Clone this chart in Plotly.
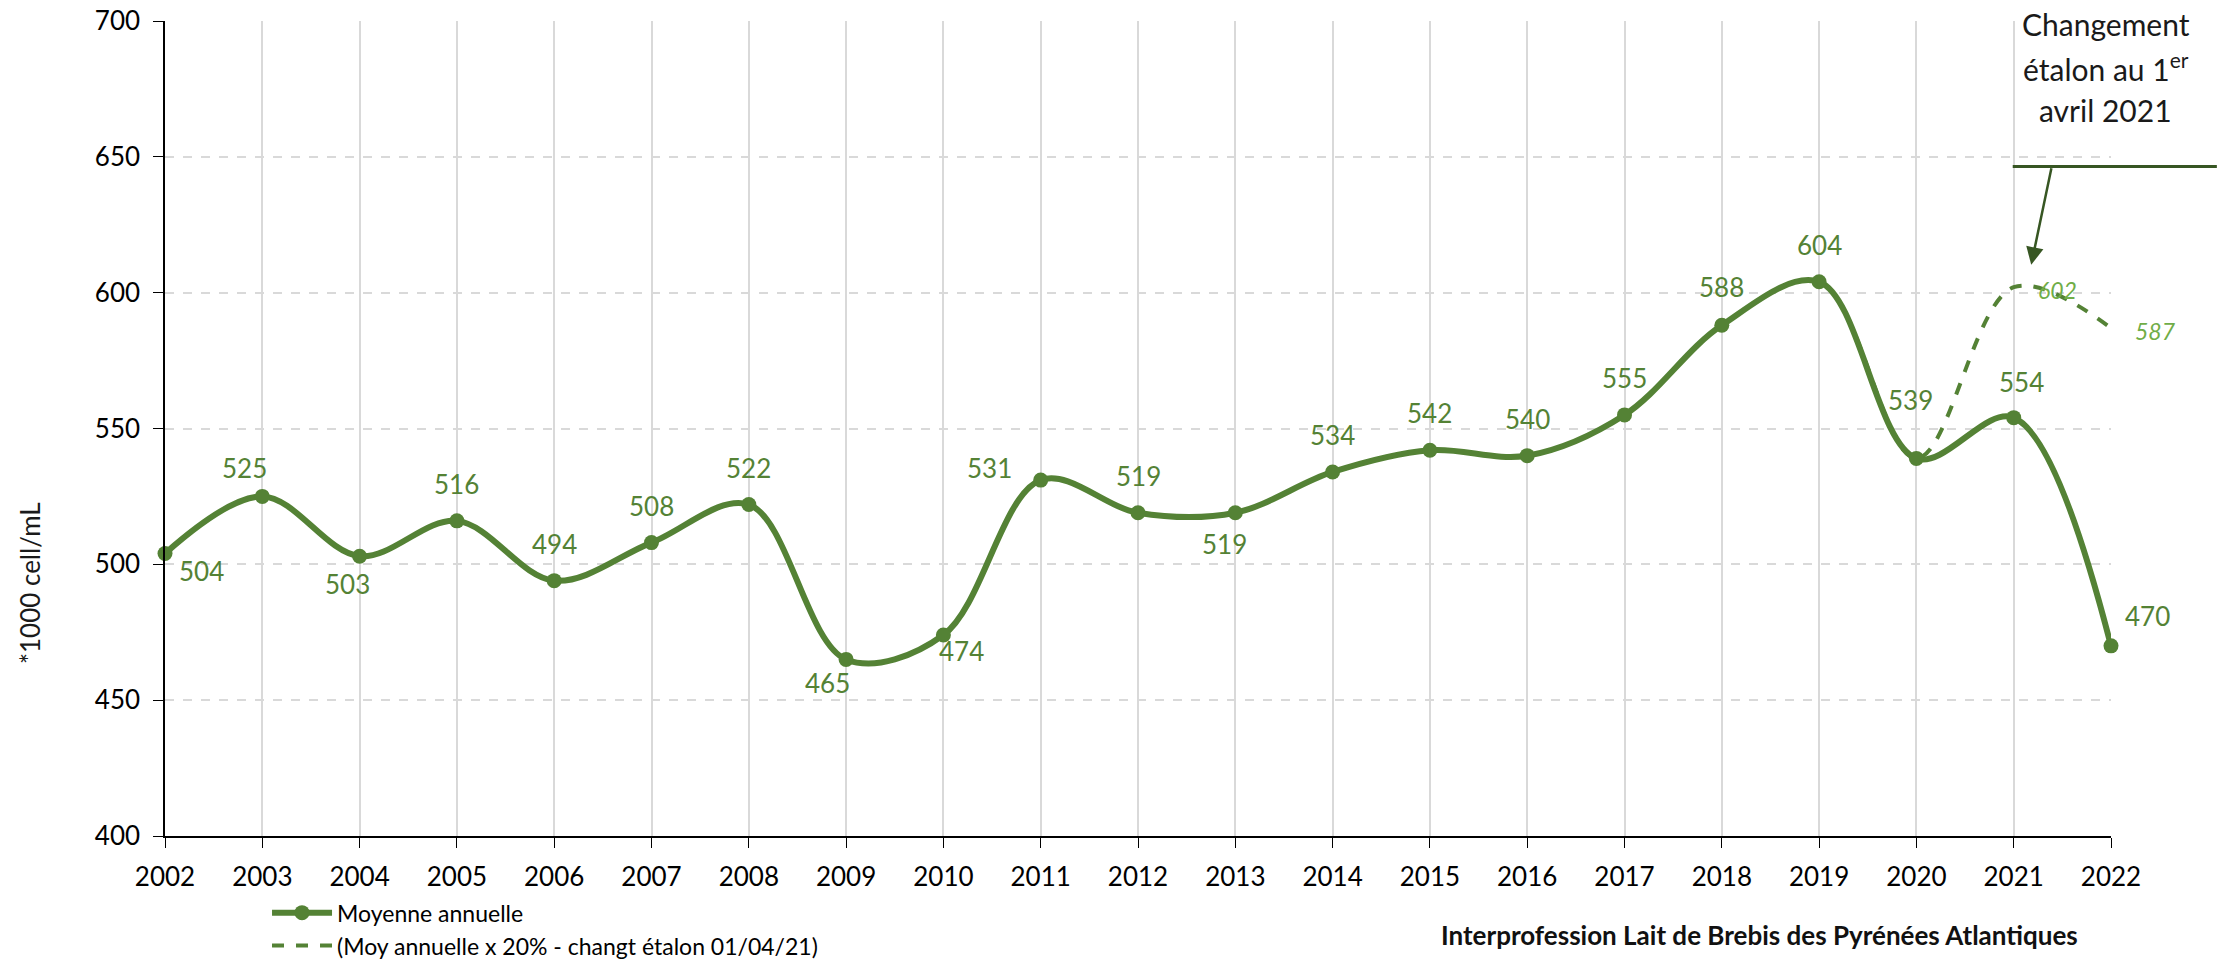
import plotly.graph_objects as go

years = list(range(2002, 2023))
moyenne = [504, 525, 503, 516, 494, 508, 522, 465, 474, 531, 519,
           519, 534, 542, 540, 555, 588, 604, 539, 554, 470]
# the adjusted series follows the annual mean until 2020 (hidden under it)
moyenne_etalon = [504, 525, 503, 516, 494, 508, 522, 465, 474, 531, 519,
                  519, 534, 542, 540, 555, 588, 604, 539, 602, 587]
etalon_labelled = [2021, 2022]
note_lines = ['Changement', 'étalon au 1<sup>er</sup>', 'avril 2021']

# label offsets in pixels (dx, dy) relative to each point
label_offsets = [(36, 18), (-18, -28), (-12, 28), (0, -37), (0, -37), (0, -37),
                 (0, -37), (-19, 24), (18, 16), (-51, -12), (0, -37), (-11, 31),
                 (0, -37), (0, -37), (0, -37), (0, -37), (0, -38), (0, -37),
                 (-6, -58), (8, -36), (36, -30)]

GREEN = '#548235'
LIGHT_GREEN = '#70AD47'
DARK_GREEN = '#375623'
FONT = 'Lato'

fig = go.Figure()
fig.add_trace(go.Scatter(
    x=years, y=moyenne_etalon, mode='lines',
    name='(Moy annuelle x 20% - changt étalon 01/04/21)',
    line=dict(color=GREEN, width=4, dash='dash', shape='spline', smoothing=1),
    cliponaxis=False, showlegend=True, legendrank=2,
))
fig.add_trace(go.Scatter(
    x=years, y=moyenne, mode='lines+markers', name='Moyenne annuelle',
    line=dict(color=GREEN, width=6, shape='spline', smoothing=1),
    marker=dict(size=15, color=GREEN),
    cliponaxis=False, legendrank=1,
))

for yr, val, (dx, dy) in zip(years, moyenne, label_offsets):
    fig.add_annotation(x=yr, y=val, text=str(val), showarrow=False,
                       xshift=dx, yshift=-dy,
                       font=dict(family=FONT, size=26, color=GREEN))

for yr, val in zip(years, moyenne_etalon):
    if yr in etalon_labelled:
        fig.add_annotation(x=yr, y=val, text=str(val), showarrow=False,
                           xshift=44, yshift=-3,
                           font=dict(family=FONT, size=23, color=LIGHT_GREEN, style='italic'))

# note about the calibration change, one annotation per line
for i, line in enumerate(note_lines):
    fig.add_annotation(xref='paper', yref='paper', x=0.9973, y=0.9968 - i * 0.0528,
                       text=line, showarrow=False, xanchor='center', yanchor='middle',
                       font=dict(family=FONT, size=30, color='#1a1a1a'))
fig.add_annotation(x=2021.18, y=610.3, xref='x', yref='y', text='',
                   showarrow=True, ax=20.5, ay=-98,
                   arrowhead=2, arrowsize=1.4, arrowwidth=2.5, arrowcolor=DARK_GREEN)
fig.add_shape(type='line', xref='paper', yref='y', x0=0.9495, x1=1.0544,
              y0=646.4, y1=646.4, line=dict(color=DARK_GREEN, width=3))

# y axis title
fig.add_annotation(xref='paper', yref='paper', x=-0.069, y=0.31,
                   text='*1000 cell/mL', showarrow=False, textangle=-90,
                   xanchor='center', yanchor='middle',
                   font=dict(family=FONT, size=26, color='#1a1a1a'))

# source
fig.add_annotation(xref='paper', yref='paper', x=0.8196, y=-0.122,
                   text='<b>Interprofession Lait de Brebis des Pyrénées Atlantiques</b>',
                   showarrow=False, xanchor='center', yanchor='middle',
                   font=dict(family=FONT, size=26, color='#111111'))

fig.update_xaxes(range=[2002, 2022], dtick=1, tick0=2002, tickangle=0,
                 showgrid=True, gridcolor='#d9d9d9', gridwidth=1.5,
                 showline=True, linecolor='black', linewidth=1.5,
                 ticks='outside', ticklen=10, tickcolor='black',
                 ticklabelstandoff=7, ticklabeloverflow='allow', zeroline=False,
                 tickfont=dict(family=FONT, size=26, color='black'))
fig.update_yaxes(range=[400, 700], dtick=50, tick0=400,
                 showgrid=True, gridcolor='#d9d9d9', gridwidth=1.5, griddash='dash',
                 showline=True, linecolor='black', linewidth=1.5,
                 ticks='outside', ticklen=10, tickcolor='black',
                 ticklabelstandoff=8, ticklabeloverflow='allow', zeroline=False,
                 tickfont=dict(family=FONT, size=26, color='black'))

# the page adds an 8px body margin, so the margins are shifted to compensate
fig.update_layout(
    width=2233, height=960,
    margin=dict(l=157, r=130, t=13, b=132, autoexpand=False),
    plot_bgcolor='white', paper_bgcolor='white',
    showlegend=True,
    legend=dict(xref='container', yref='container', x=0.116, y=0.080,
                xanchor='left', yanchor='top', orientation='v',
                font=dict(family=FONT, size=23, color='black'),
                bgcolor='rgba(0,0,0,0)', tracegroupgap=0, itemwidth=60),
)

fig.write_html("out.html")
